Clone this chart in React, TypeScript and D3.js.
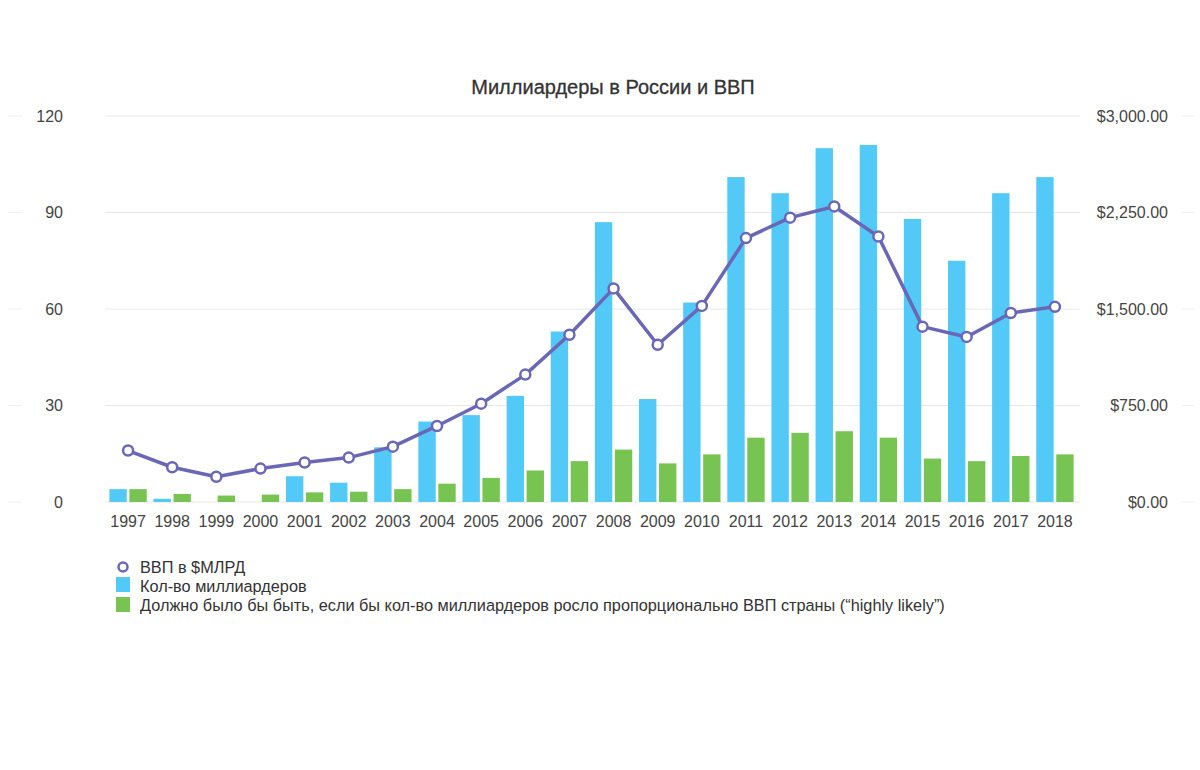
import * as d3 from "d3";

const years = ["1997", "1998", "1999", "2000", "2001", "2002", "2003", "2004", "2005", "2006", "2007", "2008", "2009", "2010", "2011", "2012", "2013", "2014", "2015", "2016", "2017", "2018"];
const billionaires = [4, 1, 0, 0, 8, 6, 17, 25, 27, 33, 53, 87, 32, 62, 101, 96, 110, 111, 88, 75, 96, 101];
const proportional = [4, 2.5, 2, 2.3, 3, 3.2, 4, 5.7, 7.5, 9.8, 12.7, 16.3, 12, 14.8, 20, 21.5, 22, 20, 13.5, 12.7, 14.3, 14.8];
const gdp = [400, 270, 196, 260, 307, 345, 430, 591, 764, 990, 1300, 1660, 1222, 1524, 2051, 2210, 2297, 2064, 1363, 1283, 1469, 1517];
const leftTicks = [0, 30, 60, 90, 120];
const rightTicks = [0, 750, 1500, 2250, 3000];

const title = "Миллиардеры в России и ВВП";
const legendItems = [
  "ВВП в $МЛРД",
  "Кол-во миллиардеров",
  "Должно было бы быть, если бы кол-во миллиардеров росло пропорционально ВВП страны (“highly likely”)",
];

const BLUE = "#52c9f7";
const GREEN = "#77c453";
const LINE = "#6a67b7";
const FONT = "'Liberation Sans', Arial, sans-serif";

export default function App() {
  const width = 1200;
  const height = 770;
  const left = 106;
  const right = 1077;
  const top = 116;
  const bottom = 502;

  const x = d3.scaleBand<string>().domain(years).range([left, right]);
  const inner = d3.scaleBand<string>().domain(["b", "g"]).range([0, x.bandwidth()]).paddingInner(0.13).paddingOuter(0.17);
  const yL = d3.scaleLinear().domain([0, 120]).range([bottom, top]);
  const yR = d3.scaleLinear().domain([0, 3000]).range([bottom, top]);

  const cx = (i: number) => x(years[i])! + x.bandwidth() / 2;
  const line = d3.line<number>().x((_, i) => cx(i)).y(d => yR(d));

  const fmt = d3.format("$,.2f");

  return (
    <svg width={width} height={height} style={{ position: "absolute", left: 0, top: 0, background: "#fff" }} fontFamily={FONT}>
      <rect width={width} height={height} fill="#fff" />
      <text x={613} y={94} textAnchor="middle" fontSize={20} fill="#333" stroke="#333" strokeWidth={0.3}>{title}</text>

      {leftTicks.map(t => (
        <g key={"l" + t}>
          <line x1={105} x2={1080} y1={yL(t)} y2={yL(t)} stroke="#e8e8e8" strokeWidth={1} />
          <line x1={8} x2={22} y1={yL(t)} y2={yL(t)} stroke="#f0f0f0" strokeWidth={1} />
          <text x={63} y={yL(t) + 5.5} textAnchor="end" fontSize={16} fill="#444">{t}</text>
        </g>
      ))}
      {rightTicks.map(t => (
        <g key={"r" + t}>
          <line x1={1182} x2={1194} y1={yR(t)} y2={yR(t)} stroke="#f0f0f0" strokeWidth={1} />
          <text x={1168} y={yR(t) + 5.5} textAnchor="end" fontSize={16} fill="#444">{fmt(t)}</text>
        </g>
      ))}

      {years.map((yr, i) => (
        <g key={yr} transform={`translate(${x(yr)},0)`}>
          {billionaires[i] > 0 && (
            <rect x={inner("b")} width={inner.bandwidth()} y={yL(billionaires[i])} height={bottom - yL(billionaires[i])} fill={BLUE} />
          )}
          <rect x={inner("g")} width={inner.bandwidth()} y={yL(proportional[i])} height={bottom - yL(proportional[i])} fill={GREEN} />
          <text x={x.bandwidth() / 2} y={527} textAnchor="middle" fontSize={16} fill="#444">{yr}</text>
        </g>
      ))}

      <path d={line(gdp)!} fill="none" stroke={LINE} strokeWidth={3.5} strokeLinejoin="round" />
      {gdp.map((v, i) => (
        <circle key={i} cx={cx(i)} cy={yR(v)} r={5} fill="#fff" stroke={LINE} strokeWidth={2.5} />
      ))}

      <g fontSize={16.3} fill="#333">
        <circle cx={123} cy={567} r={4.5} fill="#fff" stroke={LINE} strokeWidth={2.5} />
        <text x={140} y={573}>{legendItems[0]}</text>
        <rect x={116} y={577} width={14} height={15} fill={BLUE} />
        <text x={140} y={592}>{legendItems[1]}</text>
        <rect x={116} y={597} width={14} height={15} fill={GREEN} />
        <text x={140} y={611}>{legendItems[2]}</text>
      </g>
    </svg>
  );
}
